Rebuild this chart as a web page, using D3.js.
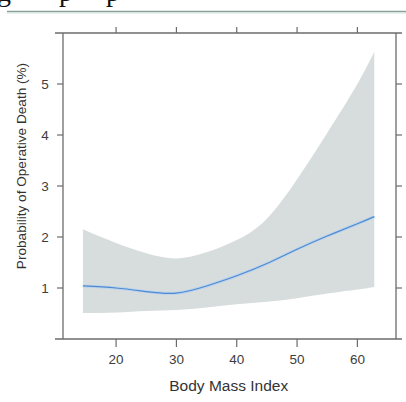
<!DOCTYPE html>
<html lang="en">
<head>
  <meta charset="UTF-8">
  <title>Probability of Operative Death by BMI</title>
  <style>
    body { margin: 0; background: #fff; }
    svg { display: block; font-family: "Liberation Sans", Arial, sans-serif; }
    .frame { stroke: #6b6b6b; stroke-width: 1.3px; }
    .tick { stroke: #6b6b6b; stroke-width: 1.2px; }
    .ticklabel { fill: #3d3d3d; font-size: 13.5px; }
    .axislabel { fill: #333; }
  </style>
</head>
<body>
  <svg width="406" height="402"></svg>

  <script src="https://d3js.org/d3.v7.min.js"></script>
  <script>
    const width = 406, height = 402;

    // BMI values and estimated curve (percent)
    const bmi   = [14.5, 20, 25, 30, 35, 40, 45, 50, 55, 60, 62.8];
    const est   = [1.04, 1.00, 0.93, 0.90, 1.04, 1.24, 1.48, 1.76, 2.02, 2.26, 2.40];
    const lower = [0.51, 0.52, 0.55, 0.57, 0.62, 0.68, 0.73, 0.80, 0.89, 0.97, 1.02];
    const upper = [2.15, 1.88, 1.68, 1.58, 1.70, 1.94, 2.36, 3.13, 4.04, 5.00, 5.63];

    const xTicks = [20, 30, 40, 50, 60];
    const yTicks = [1, 2, 3, 4, 5];

    const x = d3.scaleLinear().domain([11.2, 66.4]).range([63, 396]);
    const y = d3.scaleLinear().domain([0, 6]).range([339, 33]);

    const svg = d3.select("svg");

    // remnant of the page above: cut off caption and rule
    svg.append("g")
      .attr("font-family", "'Liberation Serif', 'Times New Roman', serif")
      .attr("font-size", 28)
      .attr("fill", "#111")
      .selectAll("text")
      .data([{ t: "g", x: -3 }, { t: "p", x: 59 }, { t: "p", x: 106 }])
      .join("text")
      .attr("x", d => d.x)
      .attr("y", 1)
      .text(d => d.t);
    svg.append("line")
      .attr("x1", 7).attr("x2", width).attr("y1", 11.5).attr("y2", 11.5)
      .attr("stroke", "#87a29c").attr("stroke-width", 1.5);
    svg.append("line")
      .attr("x1", 7).attr("x2", width).attr("y1", 13).attr("y2", 13)
      .attr("stroke", "#d3dfdb").attr("stroke-width", 1.2);

    const rows = bmi.map((b, i) => ({ b, est: est[i], lo: lower[i], hi: upper[i] }));

    // confidence band
    svg.append("path")
      .datum(rows)
      .attr("fill", "#d7dcdc")
      .attr("d", d3.area()
        .x(d => x(d.b))
        .y0(d => y(d.lo))
        .y1(d => y(d.hi))
        .curve(d3.curveNatural));

    // estimate line
    const line = d3.line().x(d => x(d.b)).y(d => y(d.est)).curve(d3.curveNatural);
    svg.append("path")
      .datum(rows)
      .attr("fill", "none")
      .attr("stroke", "#b9d3ee")
      .attr("stroke-width", 3)
      .attr("d", line);
    svg.append("path")
      .datum(rows)
      .attr("fill", "none")
      .attr("stroke", "#4f8ad0")
      .attr("stroke-width", 1.2)
      .attr("d", line);

    // frame: horizontal rules run a little past the box
    const yTop = y(6), yBottom = y(0), xLeft = x.range()[0], xRight = x.range()[1];
    svg.append("line").attr("class", "frame")
      .attr("x1", 55).attr("x2", 402).attr("y1", yTop).attr("y2", yTop);
    svg.append("line").attr("class", "frame")
      .attr("x1", 55).attr("x2", 402).attr("y1", yBottom).attr("y2", yBottom);
    svg.append("line").attr("class", "frame")
      .attr("x1", xLeft).attr("x2", xLeft).attr("y1", yTop).attr("y2", yBottom);
    svg.append("line").attr("class", "frame")
      .attr("x1", xRight).attr("x2", xRight).attr("y1", yTop).attr("y2", yBottom);

    // x ticks (top and bottom)
    svg.append("g").selectAll("line").data(xTicks).join("line")
      .attr("class", "tick")
      .attr("x1", d => x(d)).attr("x2", d => x(d))
      .attr("y1", yTop - 6).attr("y2", yTop);
    svg.append("g").selectAll("line").data(xTicks).join("line")
      .attr("class", "tick")
      .attr("x1", d => x(d)).attr("x2", d => x(d))
      .attr("y1", yBottom).attr("y2", yBottom + 8);
    svg.append("g").selectAll("text").data(xTicks).join("text")
      .attr("class", "ticklabel")
      .attr("x", d => x(d))
      .attr("y", yBottom + 25)
      .attr("text-anchor", "middle")
      .text(d => d);

    // y ticks (left and right)
    svg.append("g").selectAll("line").data(yTicks).join("line")
      .attr("class", "tick")
      .attr("x1", xLeft - 6).attr("x2", xLeft)
      .attr("y1", d => y(d)).attr("y2", d => y(d));
    svg.append("g").selectAll("line").data(yTicks).join("line")
      .attr("class", "tick")
      .attr("x1", xRight).attr("x2", xRight + 6)
      .attr("y1", d => y(d)).attr("y2", d => y(d));
    svg.append("g").selectAll("text").data(yTicks).join("text")
      .attr("class", "ticklabel")
      .attr("x", 45)
      .attr("y", d => y(d))
      .attr("dy", "0.35em")
      .attr("text-anchor", "middle")
      .text(d => d);

    // axis titles
    svg.append("text")
      .attr("class", "axislabel")
      .attr("x", (x(20) + x(60)) / 2 - 8)
      .attr("y", 391)
      .attr("text-anchor", "middle")
      .attr("font-size", 15.5)
      .text("Body Mass Index");
    svg.append("text")
      .attr("class", "axislabel")
      .attr("transform", "translate(26,166) rotate(-90)")
      .attr("text-anchor", "middle")
      .attr("font-size", 13.6)
      .text("Probability of Operative Death (%)");
  </script>
</body>
</html>
